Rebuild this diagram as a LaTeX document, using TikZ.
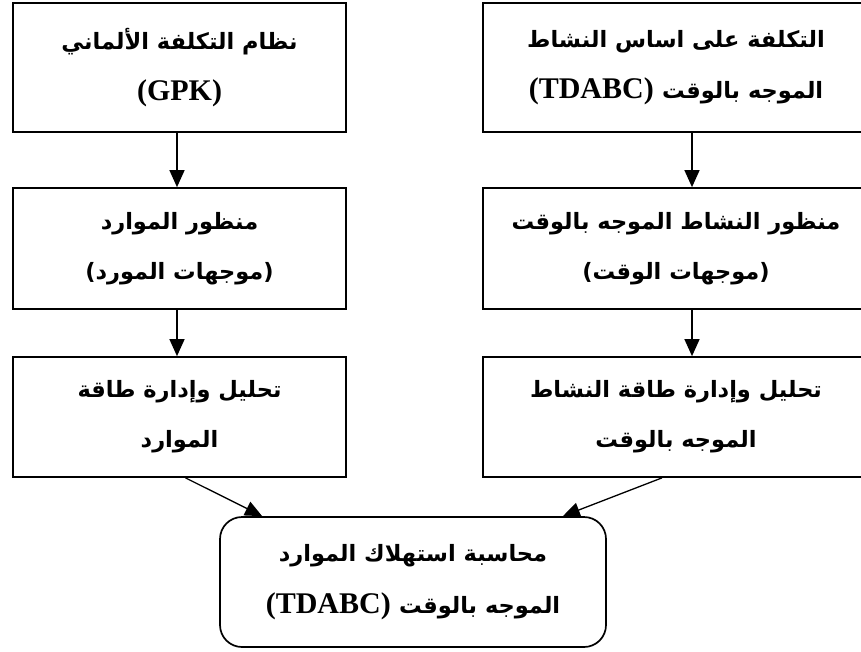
\documentclass[tikz,border=0pt]{standalone}
\usepackage{fontspec}
\TeXXeTstate=1
\newfontfamily\arabicfont[Script=Arabic]{DejaVu Sans}
\newfontfamily\latinfont{Liberation Serif}
\usetikzlibrary{arrows.meta,calc}

% one right-to-left line of Arabic text
\newcommand{\rtl}[1]{\beginR{\arabicfont #1}\endR}
% a Latin abbreviation kept left-to-right
\newcommand{\abbr}[1]{\beginL{\latinfont\fontsize{30}{50}\selectfont #1}\endL{}}

\tikzset{
  flowbox/.style={draw, line width=1.7pt, align=center, inner sep=0pt,
    font=\fontsize{22.5}{50}\selectfont\bfseries},
  flowarrow/.style={line width=1.3pt, -{Triangle[length=17pt,width=15pt]}}
}

\begin{document}
\begin{tikzpicture}[x=1pt,y=-1pt]
\useasboundingbox (0,0) rectangle (861,651);

% left column: GPK
\node[flowbox, minimum width=333pt, minimum height=129pt] (tl) at (179.5,67.5)
  {\rtl{نظام التكلفة الألماني}\\[1pt] \abbr{(GPK)}};
\node[flowbox, minimum width=333pt, minimum height=121pt] (ml) at (179.5,248.5)
  {\rtl{منظور الموارد}\\ \rtl{(موجهات المورد)}};
\node[flowbox, minimum width=333pt, minimum height=120pt] (ll) at (179.5,417)
  {\rtl{تحليل وإدارة طاقة}\\ \rtl{الموارد}};

% right column: TDABC
\node[flowbox, minimum width=386pt, minimum height=129pt] (tr) at (676,67.5)
  {\rtl{التكلفة على اساس النشاط}\\[1pt] \beginR{\arabicfont الموجه بالوقت} \abbr{(TDABC)}\endR};
\node[flowbox, minimum width=386pt, minimum height=121pt] (mr) at (676,248.5)
  {\rtl{منظور النشاط الموجه بالوقت}\\ \rtl{(موجهات الوقت)}};
\node[flowbox, minimum width=386pt, minimum height=120pt] (lr) at (676,417)
  {\rtl{تحليل وإدارة طاقة النشاط}\\ \rtl{الموجه بالوقت}};

% common result
\node[flowbox, rounded corners=22pt, minimum width=386pt, minimum height=130pt] (bt) at (413,582)
  {\rtl{محاسبة استهلاك الموارد}\\[2pt] \beginR{\arabicfont الموجه بالوقت} \abbr{(TDABC)}\endR};

% connectors
\draw[flowarrow] ($(tl.south)+(-2.5,0)$) -- ($(ml.north)+(-2.5,0)$);
\draw[flowarrow] ($(ml.south)+(-2.5,0)$) -- ($(ll.north)+(-2.5,0)$);
\draw[flowarrow] ($(tr.south)+(16,0)$) -- ($(mr.north)+(16,0)$);
\draw[flowarrow] ($(mr.south)+(16,0)$) -- ($(lr.north)+(16,0)$);
\draw[flowarrow] ($(ll.south)+(6,0)$) -- ($(bt.north west)+(43,0)$);
\draw[flowarrow] ($(lr.south)+(-14,0)$) -- ($(bt.north east)+(-44,0)$);
\end{tikzpicture}
\end{document}
